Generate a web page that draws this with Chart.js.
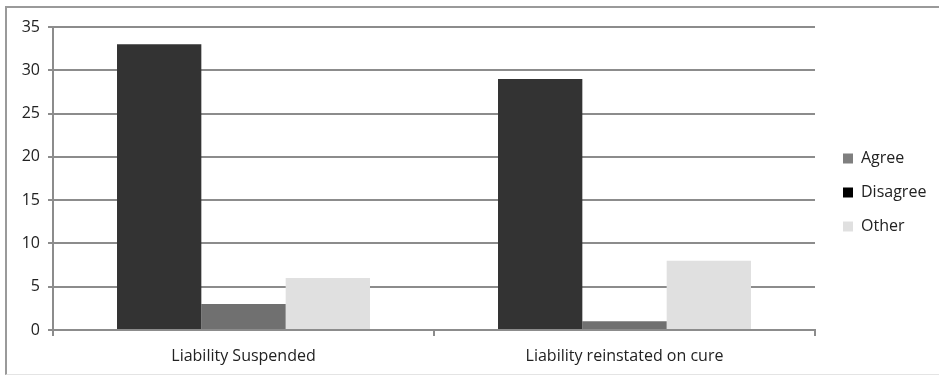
<!DOCTYPE html>
<html>
<head>
<meta charset="utf-8">
<script src="https://cdn.jsdelivr.net/npm/chart.js@4"></script>
<style>
  html,body{margin:0;padding:0;background:#fff;}
  #box{position:absolute;left:5px;top:6px;width:940px;height:366px;
       border-left:2px solid #9a9a9a;border-top:2px solid #9a9a9a;border-bottom:1px solid #e4e4e4;}
  #chart{display:block;}
</style>
</head>
<body>
<div id="box"><canvas id="chart" width="932" height="366"></canvas></div>
<script>
// data
const categories=['Liability Suspended','Liability reinstated on cure'];
const disagree=[33,29];
const agree=[3,1];
const other=[6,8];
const yTicks=[0,5,10,15,20,25,30,35];
const legendOrder=['Agree','Disagree','Other'];

const GRID='#8c8c8c', TXT='#222';
const FONT={family:"'Open Sans', sans-serif",size:16};
const legendFill={Agree:'#7f7f7f',Disagree:'#000000',Other:'#e0e0e0'};

// legend: fixed width, and nudged right/up from where chart.js puts it
const legendFix={
  id:'legendFix',
  beforeLayout(chart){
    const l=chart.legend;
    if(l && !l._fixed){
      const fit=l.fit;
      l.fit=function(){ fit.call(this); this.width=124; };
      l._fixed=true;
    }
  },
  afterLayout(chart){
    const l=chart.legend;
    l.left+=10; l.right+=10;
    l.top-=8; l.bottom-=8;
  }
};

new Chart(document.getElementById('chart'),{
  type:'bar',
  data:{
    labels:categories,
    datasets:[
      {label:'Disagree',data:disagree,backgroundColor:'#333333'},
      {label:'Agree',data:agree,backgroundColor:'#707070'},
      {label:'Other',data:other,backgroundColor:'#e0e0e0'},
    ]
  },
  options:{
    responsive:false,animation:false,
    layout:{padding:{top:19,left:0,right:0,bottom:0}},
    datasets:{bar:{categoryPercentage:0.664,barPercentage:1}},
    plugins:{
      tooltip:{enabled:false},
      legend:{
        position:'right',align:'center',
        labels:{
          boxWidth:10,boxHeight:10,padding:18,color:TXT,font:FONT,
          sort:(a,b)=>legendOrder.indexOf(a.text)-legendOrder.indexOf(b.text),
          generateLabels:chart=>chart.data.datasets.map((d,i)=>({
            text:d.label,fillStyle:legendFill[d.label],strokeStyle:legendFill[d.label],
            lineWidth:0,datasetIndex:i,fontColor:TXT
          }))
        }
      }
    },
    scales:{
      x:{
        grid:{offset:true,drawOnChartArea:false,drawTicks:true,tickLength:6,color:GRID,lineWidth:2},
        border:{display:true,color:GRID,width:2},
        ticks:{color:TXT,font:FONT,padding:11,maxRotation:0},
        afterFit:s=>{ s.height=44; }
      },
      y:{
        min:0,max:35,
        grid:{color:GRID,lineWidth:2,tickLength:5,drawTicks:true},
        border:{display:true,color:GRID,width:2},
        ticks:{stepSize:5,color:TXT,font:FONT,padding:8},
        afterBuildTicks:s=>{ s.ticks=yTicks.map(v=>({value:v})); },
        afterFit:s=>{ s.width=46; }
      }
    }
  },
  plugins:[legendFix]
});
</script>
</body>
</html>
